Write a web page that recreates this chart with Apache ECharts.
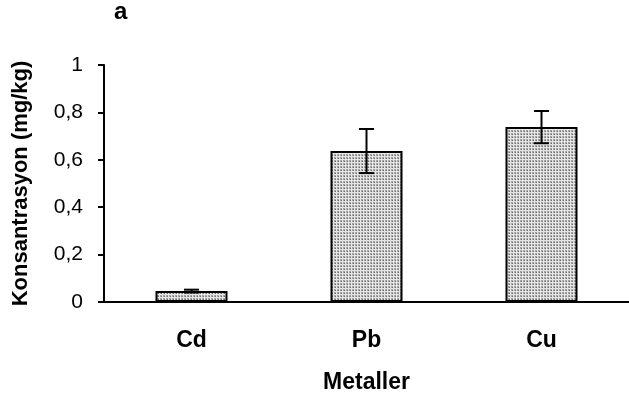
<!DOCTYPE html>
<html><head><meta charset="utf-8">
<script src="https://cdn.jsdelivr.net/npm/echarts@6/dist/echarts.min.js"></script>
<style>html,body{margin:0;padding:0;background:#fff}#c{width:629px;height:405px}</style>
</head><body><div id="c"></div>
<script>
const categories = ['Cd', 'Pb', 'Cu'];
const values = [0.046, 0.637, 0.738];
const errors = [0.006, 0.093, 0.068];
const yTicks = [0, 0.2, 0.4, 0.6, 0.8, 1];

const pc = document.createElement('canvas');
pc.width = 3; pc.height = 3;
const px = pc.getContext('2d');
px.fillStyle = '#e6e6e6'; px.fillRect(0,0,3,3);
px.fillStyle = '#a4a4a4'; px.fillRect(1,1,2,2);
px.fillStyle = '#6e6e6e'; px.fillRect(2,2,1,1);

const errData = values.map((v, i) => [i, v - errors[i], v + errors[i]]);
const font = 'Arial, "Liberation Sans", sans-serif';

const chart = echarts.init(document.getElementById('c'));
chart.setOption({
  animation: false,
  graphic: [{ type: 'text', left: 114, top: 0, style: { text: 'a', font: 'bold 24px ' + font, fill: '#000' } }],
  grid: { left: 104, right: -9, top: 65, bottom: 103 },
  xAxis: {
    type: 'category', data: categories,
    name: 'Metaller', nameLocation: 'middle', nameGap: 69,
    nameTextStyle: { fontFamily: font, fontWeight: 'bold', fontSize: 23, color: '#000' },
    axisLine: { lineStyle: { color: '#000', width: 2 } },
    axisTick: { length: 7, lineStyle: { color: '#000', width: 2 } },
    axisLabel: { margin: 27, fontFamily: font, fontWeight: 'bold', fontSize: 23, color: '#000' }
  },
  yAxis: {
    type: 'value', min: 0, max: 1, interval: 0.2,
    name: 'Konsantrasyon (mg/kg)', nameLocation: 'middle', nameGap: 72,
    nameTextStyle: { fontFamily: font, fontWeight: 'bold', fontSize: 22, color: '#000' },
    splitLine: { show: false },
    axisLine: { show: true, lineStyle: { color: '#000', width: 2 } },
    axisTick: { show: true, length: 6, lineStyle: { color: '#000', width: 2 } },
    axisLabel: { margin: 21, fontFamily: font, fontSize: 21, color: '#000',
      formatter: v => { const t = yTicks.find(x => Math.abs(x - v) < 1e-9); return String(t).replace('.', ','); } }
  },
  series: [
    { type: 'bar', data: values, barWidth: 72,
      itemStyle: { color: { image: pc, repeat: 'repeat' }, borderColor: '#000', borderWidth: 2 } },
    { type: 'custom', data: errData, z: 10,
      renderItem: (params, api) => {
        const x = api.value(0);
        const lo = api.coord([x, api.value(1)]);
        const hi = api.coord([x, api.value(2)]);
        const w = 7.5;
        const st = { stroke: '#000', lineWidth: 2 };
        return { type: 'group', children: [
          { type: 'line', shape: { x1: lo[0], y1: lo[1], x2: hi[0], y2: hi[1] }, style: st },
          { type: 'line', shape: { x1: lo[0]-w, y1: lo[1], x2: lo[0]+w, y2: lo[1] }, style: st },
          { type: 'line', shape: { x1: hi[0]-w, y1: hi[1], x2: hi[0]+w, y2: hi[1] }, style: st }
        ]};
      } }
  ]
});
</script></body></html>
